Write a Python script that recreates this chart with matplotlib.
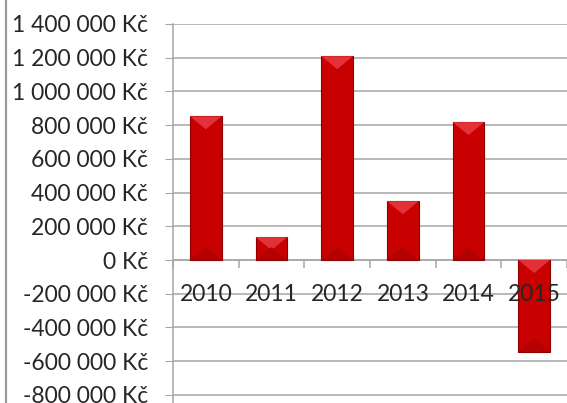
import matplotlib
matplotlib.use("Agg")
import matplotlib.pyplot as plt
from matplotlib.patches import Polygon
from matplotlib.lines import Line2D
from matplotlib.ticker import FuncFormatter
from matplotlib.transforms import offset_copy

years = ["2010", "2011", "2012", "2013", "2014", "2015"]
values = [852000, 136000, 1209000, 349000, 818000, -544000]
yticks = [-800000, -600000, -400000, -200000, 0, 200000, 400000,
          600000, 800000, 1000000, 1200000, 1400000]

plt.rcParams['font.family'] = ['Lato', 'DejaVu Sans']

W, H = 567, 403
fig = plt.figure(figsize=(W / 100, H / 100), dpi=100)
# osa: vlevo x=173, nahore y=24, dole okraj obrazku
ax = fig.add_axes([173 / W, 0.0, 1 - 173 / W, 1 - 24 / H])
ymin, ymax = -848000, 1400000
ax.set_ylim(ymin, ymax)
ax.set_xlim(-0.5, len(years) - 0.5)

grid_c = "#A6A6A6"
ax.set_yticks(yticks)
ax.yaxis.grid(True, color=grid_c, lw=1.1)
ax.set_axisbelow(True)


def kc(v, pos):
    s = f"{int(v):,}".replace(",", " ")
    return f"{s} Kč"


ax.yaxis.set_major_formatter(FuncFormatter(kc))
ax.tick_params(axis="y", direction="out", length=6, color=grid_c,
               labelsize=16.5, labelcolor="#262626", pad=12)

for s in ["top", "right"]:
    ax.spines[s].set_visible(False)
ax.spines["left"].set_color(grid_c)
ax.spines["left"].set_linewidth(1.1)
ax.spines["bottom"].set_position(("data", 0))
ax.spines["bottom"].set_color(grid_c)
ax.spines["bottom"].set_linewidth(1.1)

ax.set_xticks([i - 0.5 for i in range(len(years) + 1)])
ax.set_xticklabels([])
ax.tick_params(axis="x", direction="out", length=6, color=grid_c, width=1.1)

# popisky let pres sloupce (jako v Excelu)
lab_tr = offset_copy(ax.transData, fig=fig, y=-34, units="dots")
for i, y in enumerate(years):
    ax.text(i, 0, y, transform=lab_tr, ha="center", va="center",
            fontsize=16.5, color="#262626", zorder=6)

bw = 0.48
ax.bar(range(len(years)), values, width=bw, color="#C80000",
       edgecolor="#8E0000", linewidth=0.8, zorder=3)

# zkoseni hran (bevel) - prepocet pixelu na data
ax_h_px = (1 - 24 / H) * H
bh = 13 * (ymax - ymin) / ax_h_px
for i, v in enumerate(values):
    x0, x1 = i - bw / 2, i + bw / 2
    hi, lo = max(v, 0), min(v, 0)
    top = Polygon([(x0, hi), (x1, hi), (i, hi - bh)], closed=True,
                  facecolor="#E3313A", edgecolor="none", zorder=4)
    bot = Polygon([(x0, lo), (x1, lo), (i, lo + bh)], closed=True,
                  facecolor="#B30000", edgecolor="none", zorder=4)
    ax.add_patch(top)
    ax.add_patch(bot)

fig.add_artist(Line2D([5.5 / W, 5.5 / W], [0, 1], color="#9A9A9A", lw=1.6))

fig.savefig("out.png", dpi=100)
